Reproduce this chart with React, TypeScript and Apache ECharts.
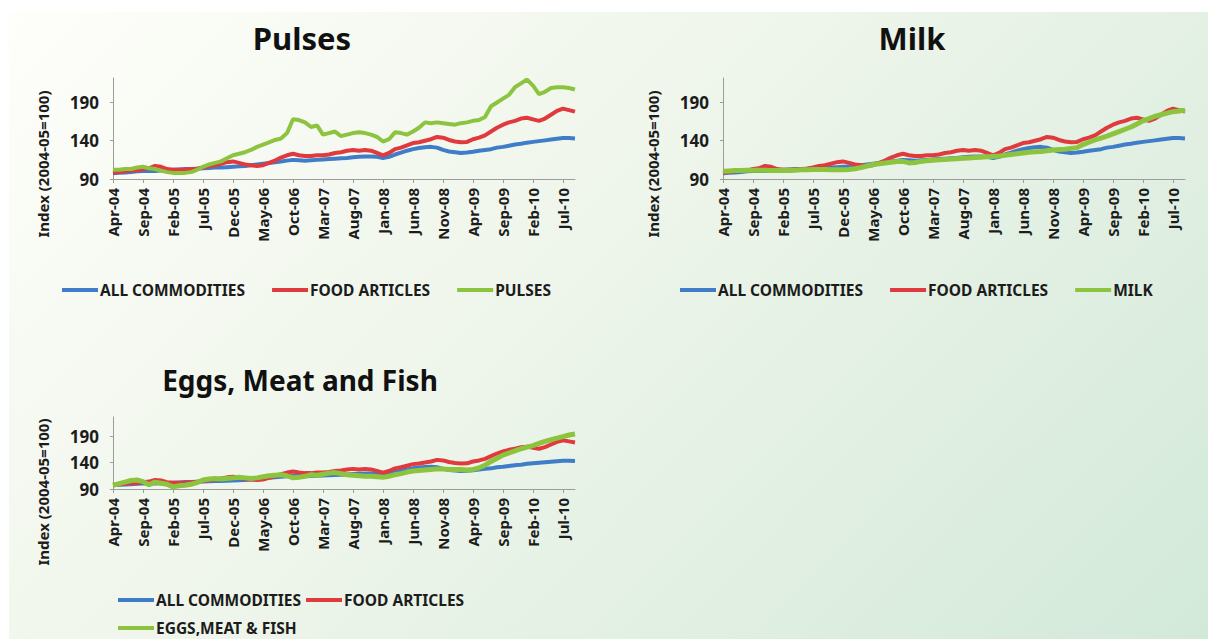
import React, { useEffect, useRef } from 'react';
import * as echarts from 'echarts';

const MONTHS = ['Jan', 'Feb', 'Mar', 'Apr', 'May', 'Jun', 'Jul', 'Aug', 'Sep', 'Oct', 'Nov', 'Dec'];
// Monthly categories Apr-04 .. Sep-10
const categories: string[] = [];
for (let k = 0; k < 78; k++) {
  const m = (3 + k) % 12;
  const y = 4 + Math.floor((3 + k) / 12);
  categories.push(`${MONTHS[m]}-${String(y).padStart(2, '0')}`);
}

const yTicks = [90, 140, 190];

const allCommodities = [
  97.5, 98, 98.5, 99, 100, 100.5, 100.5, 100.5, 101, 101.5,
  102, 102.5, 103, 103, 103.5, 104, 104.5, 105, 105, 105.5,
  106, 106.5, 107, 108, 109, 110, 111, 112, 113, 114,
  115, 114.5, 114, 114.5, 115, 115.5, 116, 116.5, 117, 117.5,
  118.5, 119, 119.5, 119.5, 119, 117.5, 119, 122, 124.5, 127,
  129, 130.5, 131.5, 132, 131, 128, 126, 125, 124, 124.5,
  125.5, 127, 128, 129, 131, 132, 133.5, 135, 136, 137.5,
  138.5, 139.5, 140.5, 141.5, 142.5, 143.5, 143.5, 143,
];

const foodArticles = [
  98, 99, 100, 101, 101, 103, 104, 107, 106, 103,
  102, 102, 102, 103, 103.5, 105, 107, 108, 110, 112,
  113, 111, 109, 108, 107, 108, 111, 114, 118, 121,
  123, 121, 120, 120, 121, 121, 122, 124, 125, 127,
  128, 127, 128, 127, 124, 121, 124, 129, 131, 134,
  137, 138, 140, 142, 145, 144, 141, 139, 138, 138.5,
  142, 144, 147, 152, 157, 161, 164, 166, 169, 170,
  168, 166, 169, 174, 179, 182, 180, 178,
];

const pulses = [
  102, 102, 103, 103, 105, 106, 104, 103, 101, 99,
  98, 98, 98, 99, 102, 106, 109, 111, 113, 117,
  121, 123, 125, 128, 132, 135, 138, 141, 143, 150,
  168, 167, 164, 158, 160, 148, 150, 152, 146, 148,
  150, 151, 150, 148, 145, 139, 142, 151, 150, 148,
  152, 157, 164, 163, 164, 163, 162, 161, 163, 164,
  166, 167, 171, 185, 190, 195, 200, 210, 215, 220,
  212, 201, 204, 209, 210, 210, 209, 207,
];

const milk = [
  100, 100.5, 101, 101, 101.5, 101.5, 101.5, 101.5, 101, 101,
  101, 101, 101.5, 102, 102, 102.5, 102.5, 102.5, 102, 102,
  102, 102.5, 103.5, 105, 107, 109, 110, 111, 112, 113,
  113, 111, 111.5, 113, 114, 114.5, 115, 115.5, 116, 116.5,
  117, 117.5, 118, 118.5, 119, 119.5, 120, 121, 122, 123,
  124, 125, 125.5, 126, 127, 128, 128.5, 129, 130, 131,
  135, 138, 141, 143.5, 146, 149, 152, 155, 158, 162,
  166, 169, 172, 174, 176, 178, 179, 180,
];

const eggsMeatFish = [
  97, 100, 103, 106, 107, 104, 98, 103, 101, 99,
  94, 96, 97, 99, 102, 107, 109, 110, 109, 110,
  111, 112, 111, 110, 111, 113, 115, 116, 117, 115,
  111, 112, 114, 117, 116, 118, 120, 121, 119, 117,
  116, 115, 114, 114, 113, 112, 114, 117, 119, 122,
  124, 125, 126, 127, 128, 128, 127, 127, 127, 126,
  127, 130, 135, 142, 148, 154, 158, 162, 166, 169,
  172, 176, 180, 183, 186, 189, 192, 194,
];

const BLUE = '#3f7dc8';
const RED = '#e03a3e';
const GREEN = '#8cc43f';
const FONT = '"Noto Sans", "Open Sans", sans-serif';
const TXT = '#1c1c1c';

// page offset of the chart div
const OX = 9;
const OY = 12;

const panels = [
  { left: 113, top: 78, width: 462, height: 101, max: 222, title: 'Pulses', titleSize: 31, titleX: 302, titleY: 38, nameX: 43, nameY: 164,
    third: 'PULSES', thirdData: pulses, w: [4, 4, 4] },
  { left: 723, top: 78, width: 462, height: 101, max: 222, title: 'Milk', titleSize: 31, titleX: 912, titleY: 38, nameX: 653, nameY: 164,
    third: 'MILK', thirdData: milk, w: [4, 4, 5] },
  { left: 113, top: 417, width: 462, height: 72, max: 226, title: 'Eggs, Meat and Fish', titleSize: 28, titleX: 300, titleY: 380, nameX: 43, nameY: 492,
    third: 'EGGS,MEAT & FISH', thirdData: eggsMeatFish, w: [4, 4, 5] },
];

export default function App() {
  const ref = useRef<HTMLDivElement>(null);
  useEffect(() => {
    if (!ref.current) return;
    const chart = echarts.init(ref.current, undefined, { renderer: 'svg' });
    const grid = panels.map((p) => ({ left: p.left - OX, top: p.top - OY, width: p.width, height: p.height, containLabel: false }));
    const xAxis = panels.map((p, gi) => ({
      type: 'category', gridIndex: gi, data: categories, boundaryGap: false,
      axisLine: { show: true, lineStyle: { color: '#9c9c9c', width: 1 } },
      axisTick: { show: true, interval: 4, length: 4, lineStyle: { color: '#9c9c9c' } },
      axisLabel: { interval: 4, rotate: 90, margin: 9, fontSize: 15, fontWeight: 'bold', color: TXT, fontFamily: FONT },
      splitLine: { show: false },
    }));
    const yAxis = panels.map((p, gi) => ({
      type: 'value', gridIndex: gi, min: 90, max: p.max,
      axisLine: { show: true, lineStyle: { color: '#9c9c9c', width: 1 } },
      axisTick: { show: true, customValues: yTicks, length: 3, lineStyle: { color: '#9c9c9c' } },
      axisLabel: { customValues: yTicks, margin: 14, fontSize: 17, fontWeight: 'bold', color: TXT, fontFamily: FONT },
      splitLine: { show: false },
    }));
    const series: any[] = [];
    panels.forEach((p, gi) => {
      const defs = [
        { name: 'ALL COMMODITIES', data: allCommodities, color: BLUE, w: p.w[0] },
        { name: 'FOOD ARTICLES', data: foodArticles, color: RED, w: p.w[1] },
        { name: p.third, data: p.thirdData, color: GREEN, w: p.w[2] },
      ];
      defs.forEach((d) => {
        series.push({
          type: 'line', name: d.name, xAxisIndex: gi, yAxisIndex: gi, data: d.data,
          showSymbol: false, symbol: 'none', smooth: false,
          lineStyle: { color: d.color, width: d.w },
          itemStyle: { color: d.color },
        });
      });
    });
    const legendBase = {
      icon: 'rect', itemWidth: 36, itemHeight: 4, itemGap: 27, selectedMode: false, orient: 'horizontal', padding: 0,
      textStyle: { fontSize: 15.5, fontWeight: 'bold', color: TXT, fontFamily: FONT, padding: [0, 0, 0, -3] },
    };
    const legend = [
      { ...legendBase, left: 62 - OX, top: 290 - OY - 8, data: ['ALL COMMODITIES', 'FOOD ARTICLES', 'PULSES'] },
      { ...legendBase, left: 680 - OX, top: 290 - OY - 8, data: ['ALL COMMODITIES', 'FOOD ARTICLES', 'MILK'] },
      { ...legendBase, left: 118 - OX, top: 600 - OY - 8, itemGap: 5, data: ['ALL COMMODITIES', 'FOOD ARTICLES'] },
      { ...legendBase, left: 118 - OX, top: 629 - OY - 9, data: ['EGGS,MEAT & FISH'] },
    ];
    const graphic: any[] = [];
    panels.forEach((p) => {
      graphic.push({
        type: 'text', x: p.titleX - OX, y: p.titleY - OY,
        style: { text: p.title, align: 'center', verticalAlign: 'middle', font: `bold ${p.titleSize}px ${FONT}`, fill: '#111' },
      });
      graphic.push({
        type: 'text', x: p.nameX - OX, y: p.nameY - OY, rotation: Math.PI / 2,
        style: { text: 'Index (2004-05=100)', align: 'center', verticalAlign: 'middle', font: `bold 15px ${FONT}`, fill: TXT },
      });
    });
    chart.setOption({
      animation: false,
      backgroundColor: 'transparent',
      grid, xAxis, yAxis, series, legend, graphic,
    });
    return () => chart.dispose();
  }, []);
  return (
    <div
      ref={ref}
      style={{
        position: 'fixed', left: OX, top: OY, width: 1208 - OX, height: 639 - OY,
        background: 'linear-gradient(135deg, #fefefa 0%, #eef5ea 45%, #d2e9da 100%)',
      }}
    />
  );
}
